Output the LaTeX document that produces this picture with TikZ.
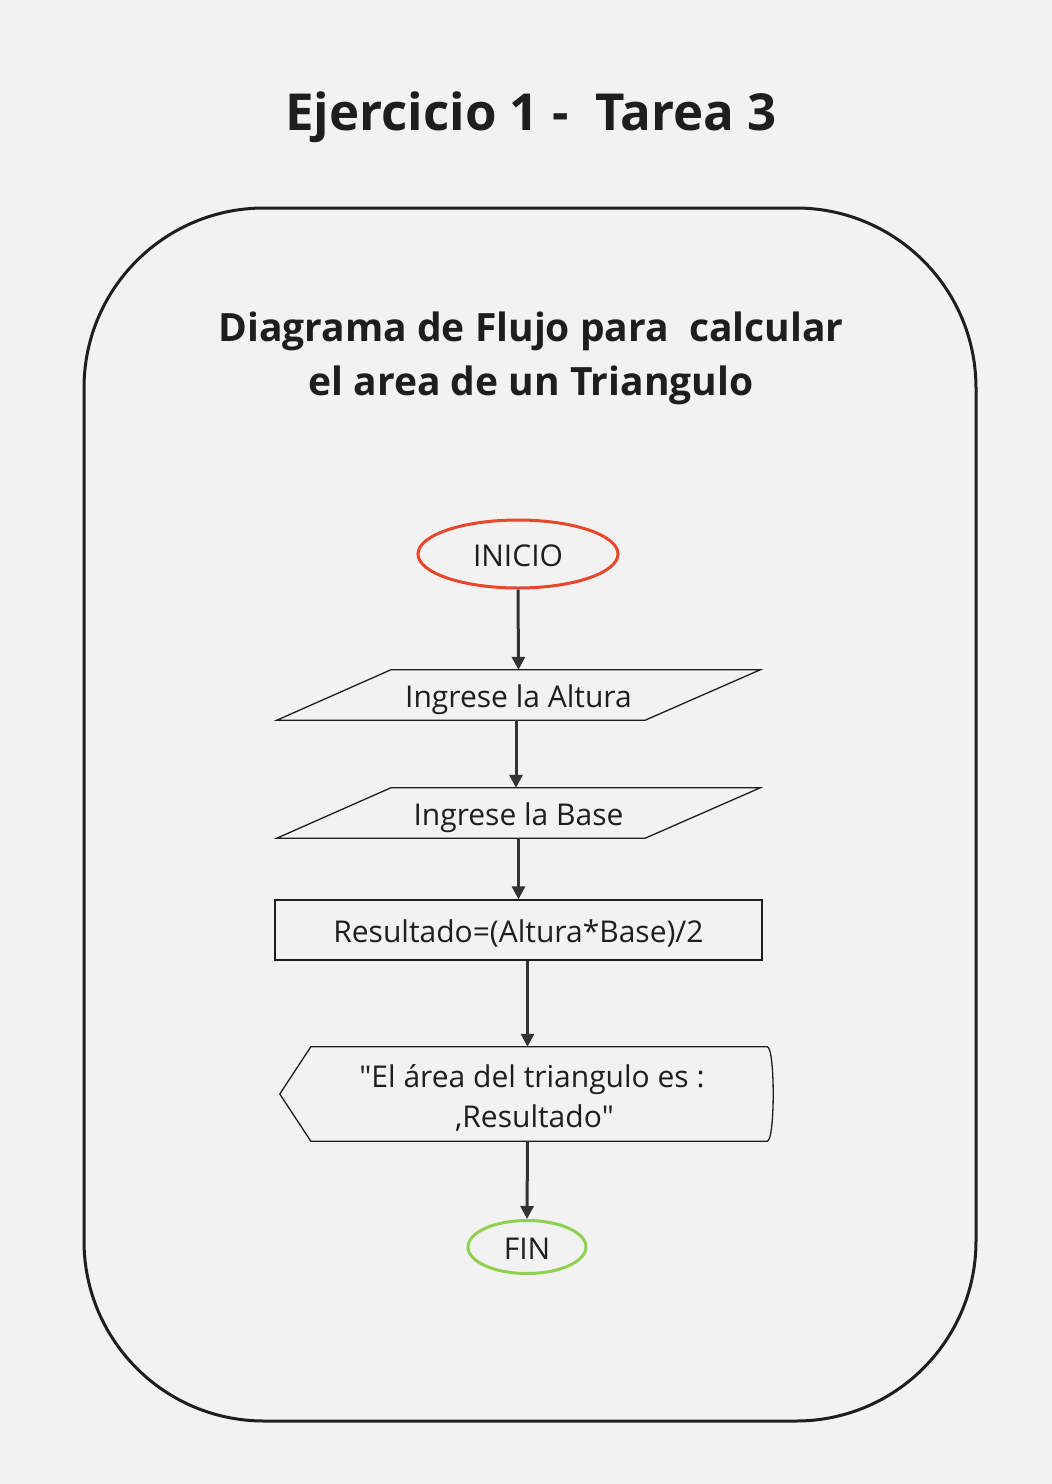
\documentclass[tikz,border=0pt]{standalone}
\usepackage{fontspec}
\setmainfont{Open Sans}
\newfontfamily\qfont{Open Sans}[Ligatures=TeXOff]
\usetikzlibrary{arrows.meta,calc,shapes.geometric}
\definecolor{bg}{HTML}{F2F2F2}
\definecolor{ink}{HTML}{1E1E1E}
\definecolor{arr}{HTML}{333333}
\definecolor{startred}{HTML}{E8472C}
\definecolor{endgreen}{HTML}{8FD14F}
\newcommand{\dq}{{\qfont\symbol{34}}}
\begin{document}
\begin{tikzpicture}[x=1pt,y=-1pt,
  every node/.style={text=ink, inner sep=0pt},
  term/.style={ellipse, line width=3pt, font=\fontsize{30}{36}\selectfont, text height=24pt, text depth=0pt},
  body/.style={font=\fontsize{30}{40}\selectfont, align=center},
  oneline/.style={text height=24pt, text depth=0pt},
  shapeline/.style={draw=ink, line width=1.3pt},
  flow/.style={draw=arr, line width=3pt, -{Triangle[length=13pt,width=13pt]}},
]
\fill[bg] (0,0) rectangle (1052,1484);
\useasboundingbox (0,0) rectangle (1052,1484);

% frame
\draw[ink, line width=3pt, rounded corners=180pt] (84,208) rectangle (976,1421);

% titles
\node[font=\bfseries\fontsize{51}{60}\selectfont] (title) at (531,117) {Ejercicio 1 -\ \ Tarea 3};
\node[font=\bfseries\fontsize{39}{54}\selectfont, align=center] (sub) at (531,358)
  {Diagrama de Flujo para\ \ calcular\\el area de un Triangulo};

% nodes
\node[term, draw=startred, minimum width=200pt, minimum height=68pt] (ini) at (518,554) {INICIO};

\node[body, oneline, minimum width=483pt, minimum height=50pt] (in1) at (518.5,695) {Ingrese la Altura};
\draw[shapeline] (in1.south west) -- ([xshift=114pt]in1.north west) -- (in1.north east)
  -- ([xshift=-115pt]in1.south east) -- cycle;

\node[body, oneline, minimum width=483pt, minimum height=50pt] (in2) at (518.5,813) {Ingrese la Base};
\draw[shapeline] (in2.south west) -- ([xshift=114pt]in2.north west) -- (in2.north east)
  -- ([xshift=-115pt]in2.south east) -- cycle;

\node[body, oneline, shapeline, minimum width=487pt, minimum height=60pt] (calc) at (518.5,930) {Resultado=(Altura*Base)/2};

\node[body, minimum width=495pt, minimum height=94pt] (disp) at (527.5,1094) {};
\node[body, anchor=base] (disptxt) at (532,1127)
  {\dq El área del triangulo es :\\\,,Resultado\dq};
\draw[shapeline] (disp.west) -- ([xshift=31pt]disp.north west) -- ([xshift=-8pt]disp.north east)
  .. controls (disp.north east) and (disp.south east) .. ([xshift=-8pt]disp.south east)
  -- ([xshift=31pt]disp.south west) -- cycle;

\node[term, draw=endgreen, minimum width=118pt, minimum height=53pt] (fin) at (527,1247) {FIN};

% connectors
\draw[flow] (ini.south) -- (in1.north);
\draw[flow] ([xshift=-2.5pt]in1.south) -- ([xshift=-2.5pt]in2.north);
\draw[flow] (in2.south) -- (calc.north);
\draw[flow] (calc.south -| disp.north) -- (disp.north);
\draw[flow] (disp.south) -- (fin.north);
\end{tikzpicture}
\end{document}
